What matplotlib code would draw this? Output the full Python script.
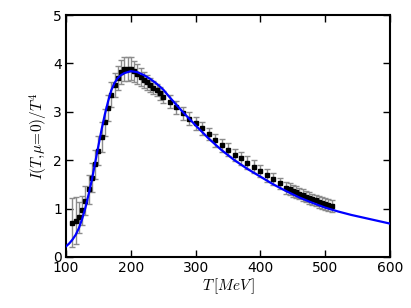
import numpy as np
import matplotlib
matplotlib.use("Agg")
import matplotlib.pyplot as plt

plt.rcParams['mathtext.fontset'] = 'cm'
plt.rcParams['font.size'] = 10

# lattice points (T in MeV, I/T^4, error)
T_data = [110, 115, 120, 125, 130, 135, 140, 145, 150, 155, 160, 165, 170, 175,
          180, 185, 190, 195, 200, 205, 210, 215, 220, 225, 230, 235, 240, 245,
          250, 260, 270, 280, 290, 300, 310, 320, 330, 340, 350, 360, 370, 380,
          390, 400, 410, 420, 430, 440, 445, 450, 455, 460, 465, 470, 475, 480,
          485, 490, 495, 500, 505, 510]
I_data = [0.71, 0.75, 0.82, 0.97, 1.16, 1.40, 1.64, 1.92, 2.20, 2.48, 2.78, 3.08,
          3.35, 3.55, 3.70, 3.82, 3.88, 3.89, 3.89, 3.84, 3.78, 3.72, 3.66, 3.61,
          3.55, 3.50, 3.45, 3.38, 3.31, 3.21, 3.09, 2.97, 2.86, 2.76, 2.66, 2.54,
          2.41, 2.31, 2.22, 2.11, 2.04, 1.95, 1.87, 1.78, 1.69, 1.61, 1.52, 1.43,
          1.40, 1.37, 1.34, 1.31, 1.28, 1.25, 1.22, 1.19, 1.17, 1.14, 1.12, 1.09,
          1.07, 1.05]
I_err = [0.50, 0.48, 0.32, 0.30, 0.30, 0.30, 0.30, 0.30, 0.30, 0.30, 0.28, 0.27,
         0.26, 0.25, 0.25, 0.25, 0.25, 0.25, 0.24, 0.22, 0.20, 0.18, 0.16, 0.15,
         0.14, 0.13, 0.13, 0.13, 0.13, 0.13, 0.13, 0.13, 0.13, 0.13, 0.13, 0.13,
         0.13, 0.13, 0.13, 0.13, 0.13, 0.13, 0.13, 0.13, 0.13, 0.13, 0.12, 0.12,
         0.12, 0.12, 0.12, 0.12, 0.12, 0.12, 0.12, 0.12, 0.12, 0.12, 0.12, 0.12,
         0.12, 0.12]

# model curve
T_model = [100, 105, 110, 115, 120, 125, 130, 135, 140, 145, 150, 155, 160, 165,
           170, 175, 180, 185, 190, 200, 210, 220, 230, 240, 250, 260, 280, 300,
           320, 340, 360, 380, 400, 420, 440, 460, 480, 500, 520, 540, 560, 580, 600]
I_model = [0.22, 0.28, 0.36, 0.46, 0.60, 0.79, 1.02, 1.30, 1.60, 1.95, 2.30, 2.64,
           2.95, 3.22, 3.45, 3.60, 3.70, 3.76, 3.80, 3.84, 3.82, 3.76, 3.68, 3.58,
           3.46, 3.30, 3.00, 2.72, 2.45, 2.21, 2.00, 1.82, 1.66, 1.50, 1.36, 1.23,
           1.12, 1.02, 0.94, 0.87, 0.81, 0.75, 0.69]

fig = plt.figure(figsize=(4.11, 3.08), dpi=100)
ax = fig.add_axes([0.1606, 0.1656, 0.7884, 0.7855])

ax.errorbar(T_data, I_data, yerr=I_err, fmt='s', color='black', ms=3,
            ecolor='0.55', elinewidth=1, capsize=2, capthick=1, zorder=2)
ax.plot(T_model, I_model, color='#0000ff', lw=1.6, zorder=3)

ax.set_xlim(100, 600)
ax.set_ylim(0, 5)
ax.set_xticks([100, 200, 300, 400, 500, 600])
ax.set_yticks([0, 1, 2, 3, 4, 5])
ax.tick_params(direction='in', top=True, right=True, length=5, width=1, pad=3)
for s in ax.spines.values():
    s.set_linewidth(1.5)

ax.set_xlabel(r'$T\,[MeV\,]$', fontsize=11, labelpad=1)
ax.set_ylabel(r'$I(T,\!\mu\!=\!0)/T^4$', fontsize=11, labelpad=2)

fig.savefig('out.png', dpi=100)
